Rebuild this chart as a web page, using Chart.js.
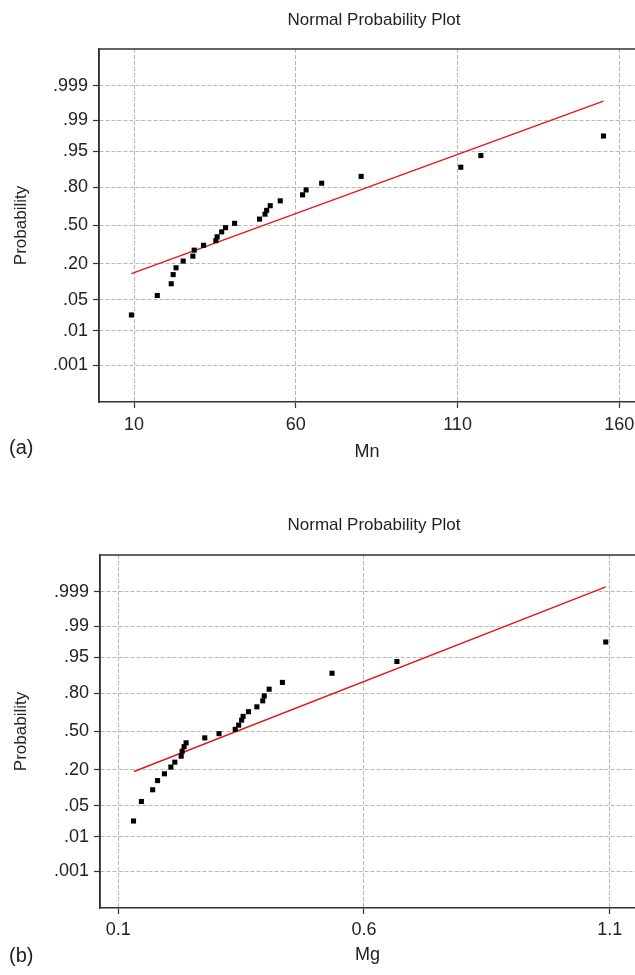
<!DOCTYPE html>
<html>
<head>
<meta charset="utf-8">
<script src="https://cdn.jsdelivr.net/npm/chart.js@4"></script>
<style>
body{margin:0;background:#fff;}
.wrap{position:relative;width:635px;height:975px;overflow:hidden;}
.panel{position:absolute;left:0;width:635px;}
.tag{position:absolute;left:9px;font:20px Arial,'Liberation Sans',sans-serif;color:#222;line-height:20px;}
</style>
</head>
<body>
<div class="wrap">
  <div class="panel" style="top:0;height:485px"><canvas id="chartA"></canvas></div>
  <div class="panel" style="top:485px;height:490px"><canvas id="chartB"></canvas></div>
  <span class="tag" style="top:437px">(a)</span>
  <span class="tag" style="top:945px">(b)</span>
</div>
<script>
// probability axis
const probTicks = [0.001, 0.01, 0.05, 0.2, 0.5, 0.8, 0.95, 0.99, 0.999];
const probLabels = ['.001', '.01', '.05', '.20', '.50', '.80', '.95', '.99', '.999'];

// plotting positions (same 26 ranks in both panels)
const plotPos = [0.024, 0.061, 0.099, 0.139, 0.175, 0.216, 0.249, 0.293, 0.331, 0.369, 0.401, 0.444, 0.481,
                 0.519, 0.556, 0.599, 0.631, 0.669, 0.707, 0.751, 0.784, 0.825, 0.861, 0.901, 0.939, 0.976];

// (a) Mn
const mnValues = [9.2, 17.2, 21.5, 22.1, 23.0, 25.2, 28.2, 28.6, 31.5, 35.3, 35.7, 37.1, 38.3,
                  41.1, 48.8, 50.5, 51.0, 52.1, 55.2, 62.1, 63.2, 68.0, 80.2, 111.0, 117.2, 155.1];
const mnTicks = [10, 60, 110, 160];
const mnLineX = [9.2, 155.1];
const mnLineP = [0.144, 0.997];

// (b) Mg
const mgValues = [0.131, 0.147, 0.170, 0.180, 0.194, 0.207, 0.215, 0.228, 0.230, 0.234, 0.238, 0.276, 0.305,
                  0.338, 0.345, 0.351, 0.354, 0.365, 0.382, 0.394, 0.397, 0.407, 0.434, 0.535, 0.667, 1.092];
const mgTicks = [0.1, 0.6, 1.1];
const mgLineX = [0.132, 1.092];
const mgLineP = [0.188, 0.9993];

const FONT = "Arial, 'Liberation Sans', sans-serif";

// inverse normal cdf (Acklam)
function probit(p){
    const a = [-39.69683028665376, 220.9460984245205, -275.9285104469687, 138.3577518672690, -30.66479806614716, 2.506628277459239];
    const b = [-54.47609879822406, 161.5858368580409, -155.6989798598866, 66.80131188771972, -13.28068155288572];
    const c = [-0.007784894002430293, -0.3223964580411365, -2.400758277161838, -2.549732539343734, 4.374664141464968, 2.938163982698783];
    const d = [0.007784695709041462, 0.3224671290700398, 2.445134137142996, 3.754408661907416];
    const pl = 0.02425;
    let q, r;
    if (p < pl) {
        q = Math.sqrt(-2 * Math.log(p));
        return (((((c[0]*q+c[1])*q+c[2])*q+c[3])*q+c[4])*q+c[5]) / ((((d[0]*q+d[1])*q+d[2])*q+d[3])*q+1);
    }
    if (p > 1 - pl) {
        q = Math.sqrt(-2 * Math.log(1 - p));
        return -(((((c[0]*q+c[1])*q+c[2])*q+c[3])*q+c[4])*q+c[5]) / ((((d[0]*q+d[1])*q+d[2])*q+d[3])*q+1);
    }
    q = p - 0.5; r = q * q;
    return (((((a[0]*r+a[1])*r+a[2])*r+a[3])*r+a[4])*r+a[5])*q / (((((b[0]*r+b[1])*r+b[2])*r+b[3])*r+b[4])*r+1);
}

// top border of the plot box + the title (the plot is cut at the right edge)
const frame = {
    id: 'frame',
    beforeDatasetsDraw(chart){
        const a = chart.chartArea, ctx = chart.ctx;
        ctx.save();
        ctx.strokeStyle = '#333';
        ctx.lineWidth = 1.5;
        ctx.beginPath();
        ctx.moveTo(a.left, a.bottom);
        ctx.lineTo(a.left, a.top);
        ctx.lineTo(a.right + 10, a.top);
        ctx.stroke();
        ctx.restore();
    },
    afterDraw(chart, args, opts){
        const ctx = chart.ctx;
        ctx.save();
        ctx.fillStyle = '#222';
        ctx.font = '17px ' + FONT;
        ctx.textAlign = 'center';
        ctx.textBaseline = 'middle';
        ctx.fillText(opts.text, opts.x, opts.y);
        ctx.restore();
    }
};

function makeChart(id, cfg){
    const pts = cfg.values.map((v, i) => ({x: v, y: probit(plotPos[i])}));
    const fit = cfg.lineX.map((v, i) => ({x: v, y: probit(cfg.lineP[i])}));
    return new Chart(document.getElementById(id), {
        type: 'scatter',
        data: {
            datasets: [{
                data: pts,
                pointStyle: 'rect',
                pointRadius: 3.6,
                backgroundColor: '#000',
                borderWidth: 0
            }, {
                data: fit,
                showLine: true,
                borderColor: '#e4181d',
                borderWidth: 1.5,
                pointRadius: 0
            }]
        },
        options: {
            responsive: true,
            maintainAspectRatio: false,
            animation: false,
            layout: {autoPadding: false, padding: {top: cfg.top, left: 0, right: 0, bottom: 0}},
            plugins: {
                legend: {display: false},
                tooltip: {enabled: false},
                title: {display: false},
                frame: {text: 'Normal Probability Plot', x: 374, y: cfg.titleY}
            },
            scales: {
                x: {
                    type: 'linear',
                    min: cfg.xMin,
                    max: cfg.xMax,
                    afterBuildTicks: s => { s.ticks = cfg.ticks.map(v => ({value: v})) },
                    afterFit: s => { s.height = cfg.xHeight; s.paddingLeft = 0; s.paddingRight = 0 },
                    ticks: {
                        autoSkip: false, maxRotation: 0, padding: cfg.xTickPad,
                        color: '#222', font: {family: FONT, size: 18},
                        callback: v => String(v)
                    },
                    grid: {color: '#b8b8b8', lineWidth: 1, tickLength: 6, tickColor: '#333', tickWidth: 1.2},
                    border: {color: '#333', width: 1.5, dash: [4, 2]},
                    title: {display: true, text: cfg.xTitle, color: '#222',
                            font: {family: FONT, size: 18}, padding: {top: 0, bottom: cfg.xTitlePad}}
                },
                y: {
                    type: 'linear',
                    min: -3.9,
                    max: 3.9,
                    afterBuildTicks: s => { s.ticks = probTicks.map(p => ({value: probit(p)})) },
                    afterFit: s => { s.width = cfg.yWidth; s.paddingTop = 0; s.paddingBottom = 0 },
                    ticks: {
                        autoSkip: false, padding: 5,
                        color: '#222', font: {family: FONT, size: 18},
                        callback: (v, i) => probLabels[i]
                    },
                    grid: {color: '#b8b8b8', lineWidth: 1, tickLength: 6, tickColor: '#333', tickWidth: 1.2},
                    border: {color: '#333', width: 1.5, dash: [4, 2]},
                    title: {display: true, text: 'Probability', color: '#222',
                            font: {family: FONT, size: 17}, padding: {top: 10.8, bottom: 0}}
                }
            }
        },
        plugins: [frame]
    });
}

makeChart('chartA', {
    values: mnValues, lineX: mnLineX, lineP: mnLineP, ticks: mnTicks,
    xMin: -0.82, xMax: 164.85, xTitle: 'Mn',
    top: 49, titleY: 20,
    xHeight: 83, xTickPad: 6.2, xTitlePad: 22.2, yWidth: 99
});

makeChart('chartB', {
    values: mgValues, lineX: mgLineX, lineP: mgLineP, ticks: mgTicks,
    xMin: 0.0628, xMax: 1.1515, xTitle: 'Mg',
    top: 70, titleY: 40,
    xHeight: 67, xTickPad: 5.2, xTitlePad: 9.2, yWidth: 100
});
</script>
</body>
</html>
